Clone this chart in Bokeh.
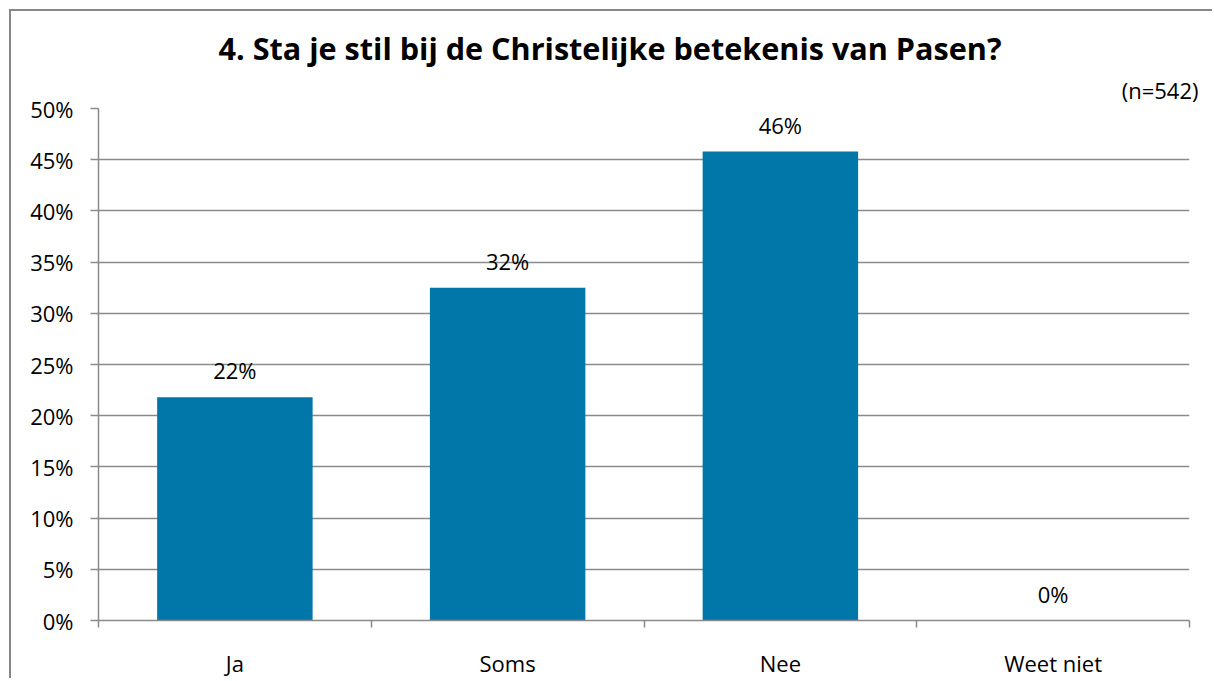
from bokeh.plotting import figure
from bokeh.models import (FixedTicker, PrintfTickFormatter, Title, ColumnDataSource)
from bokeh.core.properties import value
from bokeh.embed import file_html
from bokeh.resources import INLINE

categories = ["Ja", "Soms", "Nee", "Weet niet"]
values = [21.8, 32.5, 45.8, 0.0]
labels = ["22%", "32%", "46%", "0%"]
title_text = "4. Sta je stil bij de Christelijke betekenis van Pasen?"
n_text = "(n=542)"
y_ticks = [0, 5, 10, 15, 20, 25, 30, 35, 40, 45, 50]

FONT = "Open Sans"
GRID = "#8a8a8a"
BAR = "#0076A9"
FS = "22px"

xpos = [i + 0.5 for i in range(len(categories))]
src = ColumnDataSource(dict(x=xpos, top=values, lab=labels))

p = figure(width=1203, height=669, x_range=(0, 4), y_range=(0, 50),
           output_backend="svg", toolbar_location=None,
           min_border_left=87, min_border_right=25,
           min_border_top=97, min_border_bottom=57,
           title=title_text)
p.outline_line_color = None
p.background_fill_color = "white"
p.border_fill_color = "white"
p.styles = {"box-shadow": "-2px -2px 0px 0px #878787",
            "margin-left": "11px", "margin-top": "11px",
            "border": "none", "outline": "none", "overflow": "hidden"}

p.title.align = "left"
p.title.offset = 120
p.title.text_font = FONT
p.title.text_font_size = "30.6px"
p.title.text_font_style = "bold"
p.title.text_color = "black"
p.title.standoff = 0

p.add_layout(Title(text=n_text, align="right", offset=-9, text_font=FONT,
                   text_font_size=FS, text_font_style="normal",
                   text_color="black", standoff=8), "above")

p.vbar(x="x", top="top", width=0.57, source=src, color=BAR, line_color=None)
p.text(x="x", y="top", text="lab", source=src, text_align="center",
       text_baseline="alphabetic", y_offset=-27,
       text_font=value(FONT), text_font_size=FS, text_color="black")

# axes
xa = p.xaxis[0]
xa.ticker = FixedTicker(ticks=xpos, minor_ticks=[0, 1, 2, 3, 4])
xa.major_label_overrides = {x: c for x, c in zip(xpos, categories)}
xa.major_tick_line_color = None
xa.minor_tick_line_color = GRID
xa.minor_tick_out = 7
xa.minor_tick_in = 0
xa.minor_tick_line_width = 1.5
xa.axis_line_color = GRID
xa.axis_line_width = 1.5
xa.major_label_standoff = 20
xa.major_label_text_font = FONT
xa.major_label_text_font_size = FS
xa.major_label_text_color = "black"

ya = p.yaxis[0]
ya.ticker = FixedTicker(ticks=y_ticks)
ya.formatter = PrintfTickFormatter(format="%d%%")
ya.minor_tick_line_color = None
ya.major_tick_out = 8
ya.major_tick_in = 0
ya.major_tick_line_color = GRID
ya.major_tick_line_width = 1.5
ya.axis_line_color = GRID
ya.axis_line_width = 1.5
ya.major_label_standoff = 17
ya.major_label_text_font = FONT
ya.major_label_text_font_size = FS
ya.major_label_text_color = "black"

p.xgrid.grid_line_color = None
p.ygrid.ticker = FixedTicker(ticks=y_ticks)
p.ygrid.grid_line_color = GRID
p.ygrid.grid_line_width = 1.5

open("out.html", "w").write(file_html(p, INLINE))
